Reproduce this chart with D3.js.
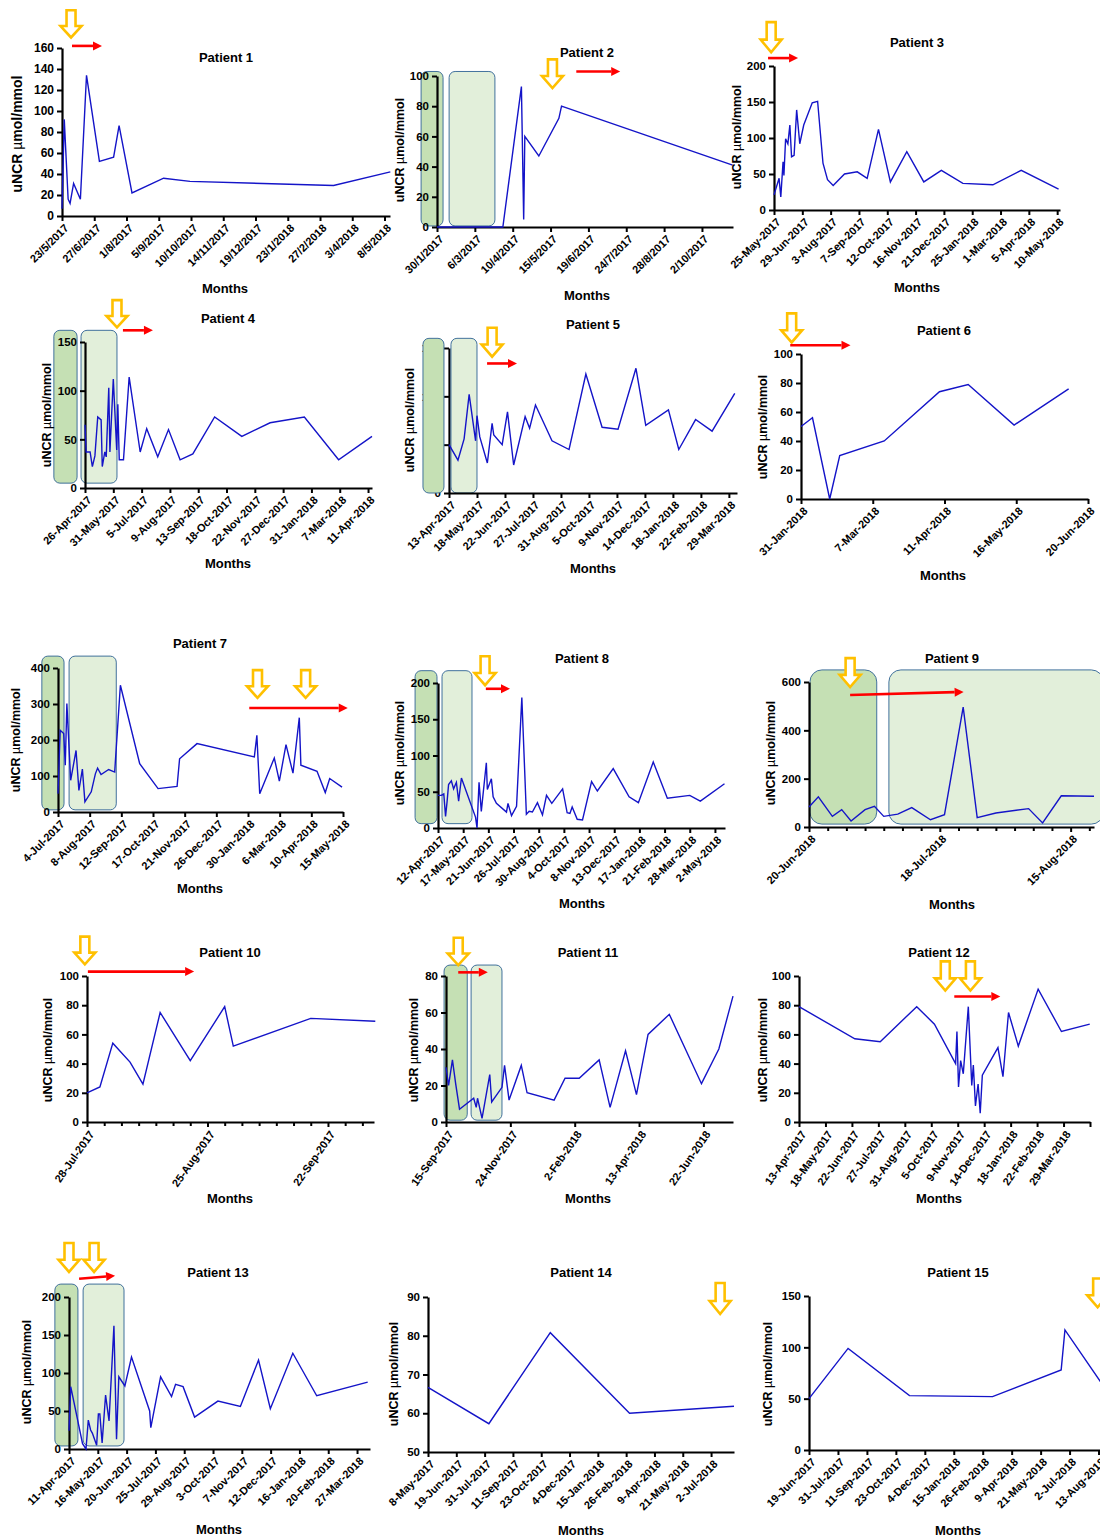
<!DOCTYPE html>
<html>
<head>
<meta charset="utf-8">
<script src="https://cdn.jsdelivr.net/npm/d3@7"></script>
<style>
body { margin: 0; background: #fff; }
svg { display: block; font-family: "Liberation Sans", Arial, sans-serif; }
</style>
</head>
<body>
<svg id="fig" width="1100" height="1538"></svg>
<script>
// ---- data: x positions are in tick steps (or days for 9 and 10), values in umol/mmol
var p1Ticks = ['23/5/2017', '27/6/2017', '1/8/2017', '5/9/2017', '10/10/2017', '14/11/2017', '19/12/2017', '23/1/2018', '27/2/2018', '3/4/2018', '8/5/2018'];
var p1Pos = [0, 0.07, 0.19, 0.25, 0.36, 0.57, 0.76, 1.16, 1.6, 1.77, 2.17, 3.15, 3.97, 8.42, 10.18];
var p1Val = [7, 92, 16, 12, 31, 16, 134, 52, 56, 86, 22, 36, 33, 29, 42];

var p2Ticks = ['30/1/2017', '6/3/2017', '10/4/2017', '15/5/2017', '19/6/2017', '24/7/2017', '28/8/2017', '2/10/2017'];
var p2Pos = [0, 1.74, 2.23, 2.29, 2.32, 2.69, 3.22, 3.29, 7.81];
var p2Val = [0, 0, 93, 5, 60, 47, 72, 80, 41];

var p3Ticks = ['25-May-2017', '29-Jun-2017', '3-Aug-2017', '7-Sep-2017', '12-Oct-2017', '16-Nov-2017', '21-Dec-2017', '25-Jan-2018', '1-Mar-2018', '5-Apr-2018', '10-May-2018'];
var p3Pos = [0, 0.18, 0.24, 0.32, 0.35, 0.41, 0.49, 0.56, 0.62, 0.71, 0.8, 0.91, 1.05, 1.35, 1.54, 1.73, 1.89, 2.09, 2.49, 2.94, 3.29, 3.69, 4.11, 4.69, 5.29, 5.91, 6.67, 7.73, 8.73, 10.05];
var p3Val = [21, 44, 18, 67, 48, 99, 92, 118, 74, 76, 139, 92, 118, 149, 151, 65, 42, 34, 50, 53, 44, 112, 39, 81, 39, 55, 37, 35, 55, 29];

var p4Ticks = ['26-Apr-2017', '31-May-2017', '5-Jul-2017', '9-Aug-2017', '13-Sep-2017', '18-Oct-2017', '22-Nov-2017', '27-Dec-2017', '31-Jan-2018', '7-Mar-2018', '11-Apr-2018'];
var p4Pos = [0, 0.04, 0.18, 0.26, 0.35, 0.45, 0.57, 0.61, 0.7, 0.75, 0.84, 0.88, 1.0, 1.12, 1.16, 1.21, 1.36, 1.56, 1.95, 2.18, 2.57, 2.95, 3.36, 3.81, 4.58, 5.54, 6.54, 7.75, 8.96, 10.14];
var p4Val = [65, 37, 37, 22, 33, 73, 70, 22, 37, 32, 103, 37, 112, 39, 86, 29, 29, 114, 37, 61, 32, 60, 29, 35, 73, 53, 67, 73, 29, 53];

var p5Ticks = ['13-Apr-2017', '18-May-2017', '22-Jun-2017', '27-Jul-2017', '31-Aug-2017', '5-Oct-2017', '9-Nov-2017', '14-Dec-2017', '18-Jan-2018', '22-Feb-2018', '29-Mar-2018'];
var p5Pos = [0, 0.32, 0.54, 0.72, 0.95, 1.0, 1.1, 1.37, 1.54, 1.6, 1.9, 2.09, 2.31, 2.72, 2.88, 3.09, 3.68, 4.29, 4.89, 5.47, 6.04, 6.68, 7.03, 7.84, 8.21, 8.81, 9.4, 10.21];
var p5Val = [50, 34, 56, 102, 54, 80, 58, 31, 72, 60, 50, 84, 29, 79, 67, 91, 54, 45, 123, 68, 66, 129, 70, 86, 45, 76, 64, 103];

var p6Ticks = ['31-Jan-2018', '7-Mar-2018', '11-Apr-2018', '16-May-2018', '20-Jun-2018'];
var p6Pos = [0, 0.16, 0.4, 0.54, 1.16, 1.93, 2.33, 2.97, 3.73];
var p6Val = [50, 56, 0, 30, 40, 74, 79, 51, 76];

var p7Ticks = ['4-Jul-2017', '8-Aug-2017', '12-Sep-2017', '17-Oct-2017', '21-Nov-2017', '26-Dec-2017', '30-Jan-2018', '6-Mar-2018', '10-Apr-2018', '15-May-2018'];
var p7Pos = [0, 0.07, 0.18, 0.23, 0.28, 0.4, 0.57, 0.66, 0.77, 0.85, 1.05, 1.18, 1.25, 1.36, 1.6, 1.79, 1.97, 2.58, 3.16, 3.76, 3.84, 4.39, 6.2, 6.28, 6.37, 6.83, 6.99, 7.2, 7.42, 7.62, 7.67, 8.18, 8.44, 8.58, 8.97];
var p7Val = [51, 227, 218, 130, 301, 88, 171, 60, 119, 28, 56, 106, 122, 104, 118, 111, 352, 134, 65, 71, 148, 190, 153, 213, 51, 150, 86, 187, 108, 262, 130, 113, 54, 93, 69];

var p8Ticks = ['12-Apr-2017', '17-May-2017', '21-Jun-2017', '26-Jul-2017', '30-Aug-2017', '4-Oct-2017', '8-Nov-2017', '13-Dec-2017', '17-Jan-2018', '21-Feb-2018', '28-Mar-2018', '2-May-2018'];
var p8Pos = [0, 0.13, 0.23, 0.3, 0.36, 0.42, 0.53, 0.62, 0.73, 0.82, 0.93, 1.49, 1.55, 1.63, 1.72, 1.92, 1.96, 2.12, 2.19, 2.32, 2.72, 2.78, 2.92, 3.12, 3.33, 3.51, 3.62, 3.75, 3.95, 4.15, 4.31, 4.52, 4.95, 5.13, 5.24, 5.33, 5.53, 5.74, 6.1, 6.33, 6.96, 7.59, 7.96, 8.55, 9.11, 10.0, 10.42, 11.38];
var p8Val = [45, 45, 47, 16, 36, 60, 65, 54, 63, 37, 69, 15, 0, 63, 23, 90, 53, 68, 43, 34, 22, 34, 17, 30, 180, 19, 23, 22, 35, 18, 45, 34, 54, 21, 20, 29, 12, 11, 64, 51, 82, 43, 35, 91, 41, 45, 37, 61];

var p9Ticks = ['20-Jun-2018', '18-Jul-2018', '15-Aug-2018'];
var p9Days = [0, 2, 5, 7, 9, 12, 14, 16, 19, 22, 26, 29, 33, 36, 40, 47, 50, 54, 61];
var p9Val = [83, 125, 44, 72, 25, 72, 86, 44, 53, 80, 30, 51, 496, 39, 58, 76, 17, 129, 127];

var p10Ticks = ['28-Jul-2017', '25-Aug-2017', '22-Sep-2017'];
var p10Days = [0, 3, 6, 10, 13, 17, 24, 32, 34, 52, 67];
var p10Val = [20, 24, 54, 41, 26, 75, 42, 79, 52, 71, 69];

var p11Ticks = ['15-Sep-2017', '24-Nov-2017', '2-Feb-2018', '13-Apr-2018', '22-Jun-2018'];
var p11Pos = [0, 0.04, 0.1, 0.15, 0.21, 0.43, 0.47, 0.49, 0.56, 0.68, 0.71, 0.87, 0.91, 0.98, 1.17, 1.26, 1.68, 1.85, 2.07, 2.38, 2.55, 2.79, 2.96, 3.14, 3.47, 3.97, 4.24, 4.46];
var p11Val = [30, 20, 34, 21, 7, 13, 8, 13, 2, 26, 11, 19, 31, 12, 31, 16, 12, 24, 24, 34, 8, 39, 15, 48, 59, 21, 40, 69];

var p12Ticks = ['13-Apr-2017', '18-May-2017', '22-Jun-2017', '27-Jul-2017', '31-Aug-2017', '5-Oct-2017', '9-Nov-2017', '14-Dec-2017', '18-Jan-2018', '22-Feb-2018', '29-Mar-2018', ''];
var p12Pos = [0, 2.11, 3.07, 4.45, 5.12, 5.92, 5.97, 6.03, 6.11, 6.21, 6.4, 6.53, 6.59, 6.67, 6.77, 6.85, 6.93, 7.52, 7.71, 7.92, 8.29, 9.04, 9.92, 10.99];
var p12Val = [79, 57, 55, 79, 67, 40, 62, 24, 42, 33, 79, 25, 39, 11, 26, 6, 32, 51, 31, 75, 52, 91, 62, 67];

var p13Ticks = ['11-Apr-2017', '16-May-2017', '20-Jun-2017', '25-Jul-2017', '29-Aug-2017', '3-Oct-2017', '7-Nov-2017', '12-Dec-2017', '16-Jan-2018', '20-Feb-2018', '27-Mar-2018'];
var p13Pos = [0, 0.06, 0.47, 0.59, 0.67, 0.75, 0.81, 0.96, 1.02, 1.07, 1.15, 1.27, 1.39, 1.56, 1.65, 1.73, 1.94, 2.17, 2.8, 2.84, 3.18, 3.56, 3.7, 3.96, 4.36, 5.17, 5.95, 6.58, 6.99, 7.77, 8.6, 10.37];
var p13Val = [24, 82, 7, 0, 38, 25, 21, 5, 46, 46, 8, 71, 37, 162, 13, 95, 83, 121, 50, 28, 95, 69, 85, 82, 42, 63, 56, 117, 53, 126, 70, 88];

var p14Ticks = ['8-May-2017', '19-Jun-2017', '31-Jul-2017', '11-Sep-2017', '23-Oct-2017', '4-Dec-2017', '15-Jan-2018', '26-Feb-2018', '9-Apr-2018', '21-May-2018', '2-Jul-2018'];
var p14Pos = [0, 2.15, 4.32, 7.12, 10.81];
var p14Val = [66.7, 57.3, 80.8, 60, 61.8];

var p15Ticks = ['19-Jun-2017', '31-Jul-2017', '11-Sep-2017', '23-Oct-2017', '4-Dec-2017', '15-Jan-2018', '26-Feb-2018', '9-Apr-2018', '21-May-2018', '2-Jul-2018', '13-Aug-2018'];
var p15Pos = [0, 1.35, 3.47, 6.34, 8.71, 8.84, 10.3];
var p15Val = [50, 99, 53, 52, 78, 117, 57];

// ---- layout: pixel frame of each plot, annotations in data units
var panels = [
    { title: 'Patient 1', ticks: p1Ticks, pos: p1Pos, val: p1Val, xEnd: 10.17, yDomain: [0, 160], yTicks: d3.range(0, 161, 20),
      left: 62, right: 390, top: 48, bottom: 216, titleAt: [226, 62], yLabAt: [22, 134], monthsAt: [225, 293], yLabSize: 14, yTickSize: 12,
      yellow: [[0.28, 196, 170]], red: [[0.31, 162, 1.24, 162]] },
    { title: 'Patient 2', ticks: p2Ticks, pos: p2Pos, val: p2Val, xEnd: 7.82, yDomain: [0, 100], yTicks: d3.range(0, 101, 20),
      left: 437, right: 733, top: 76, bottom: 227, titleAt: [587, 57], yLabAt: [404, 150], monthsAt: [587, 300],
      boxes: [[-0.42, 0.16, 103, 0.7, 'dark'], [0.32, 1.53, 103, 0.7, 'light']],
      yellow: [[3.05, 111, 92]], red: [[3.68, 103, 4.84, 103]] },
    { title: 'Patient 3', ticks: p3Ticks, pos: p3Pos, val: p3Val, xEnd: 10.1, yDomain: [0, 200], yTicks: d3.range(0, 201, 50),
      left: 774, right: 1060, top: 66, bottom: 210, titleAt: [917, 47], yLabAt: [741, 137], monthsAt: [917, 292],
      yellow: [[-0.1, 261, 219]], red: [[-0.21, 211, 0.85, 211]] },
    { title: 'Patient 4', ticks: p4Ticks, pos: p4Pos, val: p4Val, xEnd: 10.14, yDomain: [0, 150], yTicks: d3.range(0, 151, 50),
      left: 85, right: 372, top: 342, bottom: 488, titleAt: [228, 323], yLabAt: [51, 415], monthsAt: [228, 568],
      boxes: [[-1.1, -0.28, 162, 5, 'dark'], [-0.14, 1.13, 162, 5, 'light']],
      yellow: [[1.13, 193, 165]], red: [[1.34, 162, 2.4, 162]] },
    { title: 'Patient 5', ticks: p5Ticks, pos: p5Pos, val: p5Val, xEnd: 10.29, yDomain: [0, 150], yTicks: d3.range(0, 151, 50),
      left: 449, right: 737, top: 348, bottom: 493, titleAt: [593, 329], yLabAt: [414, 420], monthsAt: [593, 573], labelsUnder: true,
      boxes: [[-0.93, -0.18, 160, 0, 'dark'], [0.07, 1.0, 160, 0, 'light']],
      yellow: [[1.54, 171, 141]], red: [[1.36, 134, 2.43, 134]] },
    { title: 'Patient 6', ticks: p6Ticks, pos: p6Pos, val: p6Val, xEnd: 4.0, yDomain: [0, 100], yTicks: d3.range(0, 101, 20),
      left: 801, right: 1088, top: 354, bottom: 499, titleAt: [944, 335], yLabAt: [767, 427], monthsAt: [943, 580],
      yellow: [[-0.13, 128, 108]], red: [[-0.15, 106, 0.69, 106]] },
    { title: 'Patient 7', ticks: p7Ticks, pos: p7Pos, val: p7Val, xEnd: 9.0, yDomain: [0, 400], yTicks: d3.range(0, 401, 100),
      left: 58, right: 343, top: 668, bottom: 812, titleAt: [200, 648], yLabAt: [20, 740], monthsAt: [200, 893],
      boxes: [[-0.51, 0.19, 433, 6, 'dark'], [0.35, 1.84, 433, 6, 'light']],
      yellow: [[6.3, 394, 317], [7.82, 394, 317]], red: [[6.04, 289, 9.15, 289]] },
    { title: 'Patient 8', ticks: p8Ticks, pos: p8Pos, val: p8Val, xEnd: 11.4, yDomain: [0, 200], yTicks: d3.range(0, 201, 50),
      left: 438, right: 725, top: 683, bottom: 828, titleAt: [582, 663], yLabAt: [404, 753], monthsAt: [582, 908],
      boxes: [[-0.91, -0.04, 217, 6, 'dark'], [0.16, 1.35, 217, 6, 'light']],
      yellow: [[1.87, 237, 197]], red: [[1.9, 192, 2.86, 192]] },
    { title: 'Patient 9', ticks: p9Ticks, pos: p9Days, val: p9Val, xEnd: 61, tickStep: 28, minorStep: 4, yDomain: [0, 600], yTicks: d3.range(0, 601, 200),
      left: 809, right: 1094, top: 682, bottom: 827, titleAt: [952, 663], yLabAt: [775, 753], monthsAt: [952, 909], boxR: 12,
      boxes: [[0.2, 14.5, 650, 12, 'dark'], [17.1, 63, 650, 12, 'light']],
      yellow: [[8.8, 699, 579]], red: [[8.8, 546, 33.1, 559]] },
    { title: 'Patient 10', ticks: p10Ticks, pos: p10Days, val: p10Val, xEnd: 66.7, tickStep: 28, minorStep: 4, yDomain: [0, 100], yTicks: d3.range(0, 101, 20),
      left: 87, right: 374, top: 976, bottom: 1122, titleAt: [230, 957], yLabAt: [52, 1050], monthsAt: [230, 1203], rot: -55,
      yellow: [[-0.5, 127, 108]], red: [[0.2, 103, 24.9, 103]] },
    { title: 'Patient 11', ticks: p11Ticks, pos: p11Pos, val: p11Val, xEnd: 4.46, yDomain: [0, 80], yTicks: d3.range(0, 81, 20),
      left: 446, right: 733, top: 976, bottom: 1122, titleAt: [588, 957], yLabAt: [418, 1050], monthsAt: [588, 1203], rot: -55,
      boxes: [[-0.03, 0.33, 86, 1, 'dark'], [0.39, 0.87, 86, 1, 'light']],
      yellow: [[0.19, 101, 86]], red: [[0.19, 82, 0.65, 82]] },
    { title: 'Patient 12', ticks: p12Ticks, pos: p12Pos, val: p12Val, xEnd: 11.0, yDomain: [0, 100], yTicks: d3.range(0, 101, 20),
      left: 799, right: 1090, top: 976, bottom: 1122, titleAt: [939, 957], yLabAt: [767, 1050], monthsAt: [939, 1203], rot: -55,
      yellow: [[5.53, 110, 90], [6.48, 110, 90]], red: [[5.87, 86, 7.61, 86]] },
    { title: 'Patient 13', ticks: p13Ticks, pos: p13Pos, val: p13Val, xEnd: 10.45, yDomain: [0, 200], yTicks: d3.range(0, 201, 50),
      left: 69, right: 370, top: 1297, bottom: 1449, titleAt: [218, 1277], yLabAt: [31, 1372], monthsAt: [219, 1534],
      boxes: [[-0.49, 0.31, 217, 4, 'dark'], [0.49, 1.91, 217, 4, 'light']],
      yellow: [[0, 271, 233], [0.87, 271, 233]], red: [[0.35, 224, 1.6, 228]] },
    { title: 'Patient 14', ticks: p14Ticks, pos: p14Pos, val: p14Val, xEnd: 10.81, yDomain: [50, 90], yTicks: d3.range(50, 91, 10),
      left: 428, right: 734, top: 1297, bottom: 1452, titleAt: [581, 1277], yLabAt: [398, 1374], monthsAt: [581, 1535],
      yellow: [[10.32, 93.6, 85.6]] },
    { title: 'Patient 15', ticks: p15Ticks, pos: p15Pos, val: p15Val, xEnd: 10.5, yDomain: [0, 150], yTicks: d3.range(0, 151, 50),
      left: 809, right: 1113, top: 1296, bottom: 1450, titleAt: [958, 1277], yLabAt: [772, 1374], monthsAt: [958, 1535],
      yellow: [[9.97, 167, 139]] }
];

var svg = d3.select('#fig');
var BLUE = '#1414c8';
var YELLOW = '#ffc000';

function yellowArrow(g, cx, ty, by) {
    var h = by - ty, hh = h * 0.42;
    var pts = [[cx - 4.5, ty], [cx + 4.5, ty], [cx + 4.5, by - hh], [cx + 10.5, by - hh], [cx, by], [cx - 10.5, by - hh], [cx - 4.5, by - hh]];
    g.append('path')
        .attr('d', 'M' + pts.join('L') + 'Z')
        .attr('fill', '#fff')
        .attr('stroke', YELLOW)
        .attr('stroke-width', 2.6)
        .attr('stroke-linejoin', 'miter');
}

function redArrow(g, x1, y1, x2, y2) {
    var a = Math.atan2(y2 - y1, x2 - x1), len = 9, w = 4.5;
    var bx = x2 - len * Math.cos(a), by = y2 - len * Math.sin(a);
    g.append('line')
        .attr('x1', x1).attr('y1', y1).attr('x2', bx).attr('y2', by)
        .attr('stroke', '#ff0000').attr('stroke-width', 2.6);
    var nx = -Math.sin(a) * w, ny = Math.cos(a) * w;
    g.append('path')
        .attr('d', 'M' + x2 + ',' + y2 + 'L' + (bx + nx) + ',' + (by + ny) + 'L' + (bx - nx) + ',' + (by - ny) + 'Z')
        .attr('fill', '#ff0000');
}

function drawPanel(p) {
    var g = svg.append('g').attr('class', 'panel');
    var x = d3.scaleLinear().domain([0, p.xEnd]).range([p.left, p.right]);
    var y = d3.scaleLinear().domain(p.yDomain).range([p.bottom, p.top]);
    var rot = p.rot || -45;
    var step = p.tickStep || 1;

    function drawBoxes() {
        (p.boxes || []).forEach(function (b) {
            g.append('rect')
                .attr('x', x(b[0])).attr('y', y(b[2]))
                .attr('width', x(b[1]) - x(b[0]))
                .attr('height', y(b[3]) - y(b[2]))
                .attr('rx', p.boxR || 6)
                .attr('fill', b[4] === 'dark' ? '#c5e0b4' : '#e2efda')
                .attr('stroke', '#41719c')
                .attr('stroke-width', 1);
        });
    }

    function drawYAxis() {
        var ya = g.append('g')
            .attr('transform', 'translate(' + p.left + ',0)')
            .call(d3.axisLeft(y).tickValues(p.yTicks).tickSize(5).tickSizeOuter(0).tickPadding(3));
        ya.attr('font-size', null).attr('font-family', null);
        ya.select('.domain').attr('stroke', '#000').attr('stroke-width', 2.2);
        ya.selectAll('.tick line').attr('stroke', '#000').attr('stroke-width', 2);
        ya.selectAll('.tick text')
            .attr('font-size', p.yTickSize || 11.5)
            .attr('font-weight', 'bold')
            .attr('fill', '#000');
    }

    if (p.labelsUnder) {
        drawYAxis();
        drawBoxes();
    } else {
        drawBoxes();
        drawYAxis();
    }

    // x axis
    var tickVals = p.ticks.map(function (t, i) { return i * step; });
    var xa = g.append('g')
        .attr('transform', 'translate(0,' + p.bottom + ')')
        .call(d3.axisBottom(x).tickValues(tickVals).tickSize(5).tickSizeOuter(0)
            .tickFormat(function (d, i) { return p.ticks[i]; }));
    xa.attr('font-size', null).attr('font-family', null);
    xa.select('.domain').attr('stroke', '#000').attr('stroke-width', 2.2);
    xa.selectAll('.tick line').attr('stroke', '#000').attr('stroke-width', 2);
    xa.selectAll('.tick text')
        .attr('x', 0).attr('y', 0).attr('dy', '0.35em')
        .attr('text-anchor', 'end')
        .attr('transform', 'translate(4,10) rotate(' + rot + ')')
        .attr('font-size', 11)
        .attr('font-weight', 'bold')
        .attr('fill', '#000');

    if (p.minorStep) {
        var minor = d3.range(0, p.xEnd + 0.01, p.minorStep).filter(function (d) { return d % step !== 0; });
        var xm = g.append('g')
            .attr('transform', 'translate(0,' + p.bottom + ')')
            .call(d3.axisBottom(x).tickValues(minor).tickSize(4).tickFormat(''));
        xm.select('.domain').remove();
        xm.selectAll('.tick line').attr('stroke', '#000').attr('stroke-width', 2);
    }

    // series line
    var pts = p.pos.map(function (d, i) { return [d, p.val[i]]; });
    g.append('path')
        .datum(pts)
        .attr('d', d3.line().x(function (d) { return x(d[0]); }).y(function (d) { return y(d[1]); }))
        .attr('fill', 'none')
        .attr('stroke', BLUE)
        .attr('stroke-width', 1.4)
        .attr('stroke-linejoin', 'miter');

    // annotations
    (p.yellow || []).forEach(function (a) {
        yellowArrow(g, x(a[0]), y(a[1]), y(a[2]));
    });
    (p.red || []).forEach(function (a) {
        redArrow(g, x(a[0]), y(a[1]), x(a[2]), y(a[3]));
    });

    // texts
    g.append('text')
        .attr('x', p.titleAt[0]).attr('y', p.titleAt[1])
        .attr('text-anchor', 'middle')
        .attr('font-size', 13).attr('font-weight', 'bold')
        .text(p.title);
    g.append('text')
        .attr('x', p.monthsAt[0]).attr('y', p.monthsAt[1])
        .attr('text-anchor', 'middle')
        .attr('font-size', 13).attr('font-weight', 'bold')
        .text('Months');
    var yl = g.append('text')
        .attr('transform', 'translate(' + p.yLabAt[0] + ',' + p.yLabAt[1] + ') rotate(-90)')
        .attr('text-anchor', 'middle')
        .attr('font-size', p.yLabSize || 12.5).attr('font-weight', 'bold');
    yl.append('tspan').text('uNCR ');
    yl.append('tspan').attr('font-weight', 'normal').text('\u00b5');
    yl.append('tspan').text('mol/mmol');
}

panels.forEach(drawPanel);
</script>
</body>
</html>
